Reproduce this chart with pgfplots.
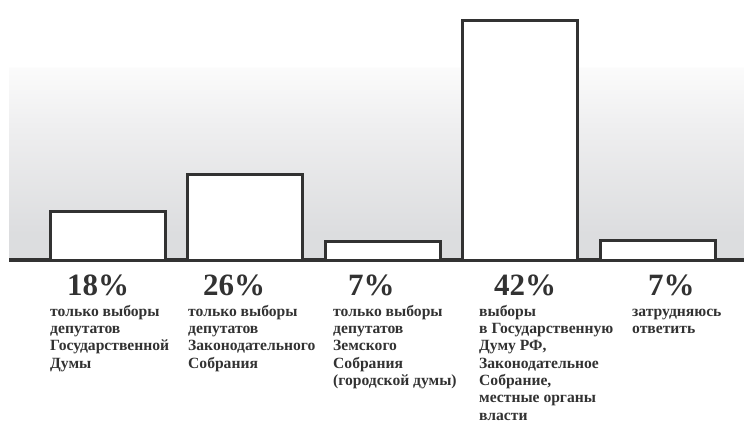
\documentclass[border=0pt]{standalone}
\usepackage{fontspec}
\setmainfont{Liberation Serif}
\usepackage{pgfplots}
\pgfplotsset{compat=1.18}

\definecolor{bgbot}{RGB}{220,221,223}
\definecolor{bgmid}{RGB}{238,238,239}
\definecolor{bgtop}{RGB}{251,251,251}
\definecolor{ink}{RGB}{50,50,50}
% background fades from grey at the baseline to white near the top
\pgfdeclareverticalshading{bgshade}{100bp}{color(0bp)=(bgbot); color(30bp)=(bgbot); color(50bp)=(bgmid); color(62bp)=(bgtop); color(62.2bp)=(white); color(100bp)=(white)}

\begin{document}
\begin{tikzpicture}[x=1pt,y=1pt,
    pct/.style={anchor=base west, inner sep=0pt, text=ink, font=\fontsize{31}{31}\selectfont\bfseries},
    txt/.style={anchor=north west, inner sep=0pt, align=left, text=ink, font=\fontsize{15.6}{17.3}\selectfont\bfseries},
]
\path[use as bounding box] (0,0) rectangle (744,423);
\begin{axis}[
    at={(9,163)}, anchor=south west,
    scale only axis, width=735pt, height=260pt,
    xmin=9, xmax=744, ymin=0, ymax=260,
    axis x line*=bottom, axis y line=none,
    x axis line style={line width=3.3pt, ink},
    xtick=\empty, ytick=\empty,
    axis background/.style={shade, shading=bgshade},
    clip=false,
    ybar, bar width=115,
]
\addplot[ybar, draw=ink, fill=white, line width=3pt]
    coordinates {(107.5,48.5) (245,85.5) (382.5,19) (520,239.3) (657.5,19.5)};

\node[pct] at (axis cs:67,-35) {18\%};
\node[pct] at (axis cs:203,-35) {26\%};
\node[pct] at (axis cs:348,-35) {7\%};
\node[pct] at (axis cs:494,-35) {42\%};
\node[pct] at (axis cs:648,-35) {7\%};

\node[txt] at (axis cs:50,-43.9) {\strut только выборы\\депутатов\\Государственной\\Думы};
\node[txt] at (axis cs:188,-43.9) {\strut только выборы\\депутатов\\Законодательного\\Собрания};
\node[txt] at (axis cs:333,-43.9) {\strut только выборы\\депутатов\\Земского\\Собрания\\(городской думы)};
\node[txt] at (axis cs:479,-43.9) {\strut выборы\\в Государственную\\Думу РФ,\\Законодательное\\Собрание,\\местные органы\\власти};
\node[txt] at (axis cs:632,-43.9) {\strut затрудняюсь\\ответить};
\end{axis}
\end{tikzpicture}
\end{document}
